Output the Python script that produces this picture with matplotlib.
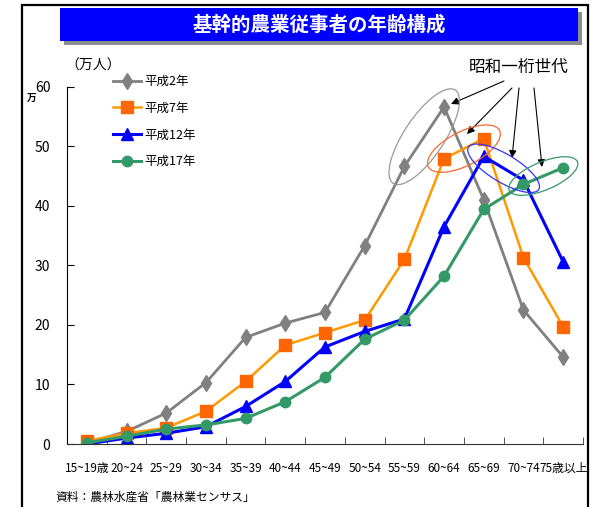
import matplotlib
matplotlib.use("Agg")
import matplotlib.pyplot as plt
from matplotlib.patches import Ellipse, Rectangle
import numpy as np

plt.rcParams['font.family'] = ['Noto Sans CJK JP', 'DejaVu Sans']

ages = ["15~19歳", "20~24", "25~29", "30~34", "35~39", "40~44", "45~49",
        "50~54", "55~59", "60~64", "65~69", "70~74", "75歳以上"]
h2 = [0.2, 2.1, 5.2, 10.3, 17.9, 20.3, 22.1, 33.3, 46.6, 56.6, 41.0, 22.5, 14.6]
h7 = [0.5, 1.8, 2.7, 5.5, 10.5, 16.6, 18.7, 20.8, 31.0, 47.9, 51.3, 31.3, 19.7]
h12 = [0.0, 1.0, 1.8, 2.9, 6.3, 10.5, 16.3, 18.9, 21.0, 36.5, 48.3, 44.3, 30.6]
h17 = [0.2, 1.3, 2.5, 3.2, 4.3, 7.1, 11.2, 17.6, 20.8, 28.2, 39.4, 43.6, 46.4]

x = np.arange(len(ages))

fig = plt.figure(figsize=(5.92, 5.07), dpi=100)
ax = fig.add_axes([67/592, 1-444/507, (583-67)/592, (444-86.7)/507])

# frame and title box
fig.patches.append(Rectangle((22/592, -0.02), (588-22)/592, 1-5/507+0.02,
                             transform=fig.transFigure, fill=False,
                             ec='black', lw=1.6))
fig.patches.append(Rectangle((64/592, 1-45/507), (578-60)/592, (41-8)/507,
                             transform=fig.transFigure, fc='#8c8c8c', ec='none'))
fig.patches.append(Rectangle((60/592, 1-41/507), (578-60)/592, (41-8)/507,
                             transform=fig.transFigure, fc='#0000ff', ec='none'))
fig.text(319/592, 1-25/507, "基幹的農業従事者の年齢構成", color='white',
         fontsize=14, fontweight='bold', ha='center', va='center')

ax.plot(x, h2, color='#808080', lw=2, marker='d', ms=8, mfc='#808080',
        mec='#808080', label='平成2年')
ax.plot(x, h7, color='#ff9900', lw=1.8, marker='s', ms=8, mfc='#ff6600',
        mec='#ff6600', label='平成7年')
ax.plot(x, h12, color='#0000ff', lw=2.2, marker='^', ms=8, mfc='#0000ff',
        mec='#0000ff', label='平成12年')
ax.plot(x, h17, color='#339966', lw=2.2, marker='o', ms=7.5, mfc='#339966',
        mec='#339966', label='平成17年')

ax.set_xlim(-0.5, 12.5)
ax.set_ylim(0, 60)
ax.set_yticks(range(0, 61, 10))
ax.set_xticks(x)
ax.set_xticklabels(ages, fontsize=8.5)
ax.set_xticks(np.arange(-0.5, 13, 1), minor=True)
ax.tick_params(axis='x', which='major', length=0, pad=13)
ax.tick_params(axis='x', which='minor', length=5, direction='in', color='#333333')
ax.tick_params(axis='y', length=5, direction='in', labelsize=10, pad=12)
for s in ['top', 'right']:
    ax.spines[s].set_visible(False)
ax.spines['bottom'].set_color('#333333')

leg = ax.legend(loc='upper left', bbox_to_anchor=(40/516, 1+18/357), frameon=False,
                fontsize=9, handlelength=2.2, labelspacing=1.1, handletextpad=0.3,
                borderpad=0)

fig.text(65/592, 1-66/507, "（万人）", fontsize=10, va='center', ha='left')
fig.text(32/592, 1-98/507, "万", fontsize=7, fontweight='bold', va='center', ha='center')
fig.text(55/592, 1-497/507, "資料：農林水産省「農林業センサス」", fontsize=8.5,
         va='center', ha='left')

# 昭和一桁世代 ellipses
fig.canvas.draw()
groups = [(h2, 8, '#999999', 112, 40), (h7, 9, '#ff6633', 80, 34),
          (h12, 10, '#3333ff', 82, 28), (h17, 11, '#339966', 74, 28)]
for ys, i, col, w, hgt in groups:
    p0 = ax.transData.transform((x[i], ys[i]))
    p1 = ax.transData.transform((x[i+1], ys[i+1]))
    c = (p0 + p1) / 2
    ang = np.degrees(np.arctan2(p1[1]-p0[1], p1[0]-p0[0]))
    e = Ellipse(c, w, hgt, angle=ang, fill=False, ec=col, lw=0.9, transform=None)
    fig.patches.append(e)

fig.text(519/592, 1-67/507, "昭和一桁世代", fontsize=12, ha='center', va='center')
arrows = [((504, 81), (451, 104)), ((512, 88), (467, 134)),
          ((519, 88), (512, 158)), ((534, 88), (542, 167))]
for (sx, sy), (tx, ty) in arrows:
    ax.annotate("", xy=(tx, 507-ty), xycoords='figure pixels',
                xytext=(sx, 507-sy), textcoords='figure pixels',
                arrowprops=dict(arrowstyle='-|>', color='black', lw=0.8,
                                mutation_scale=11, shrinkA=0, shrinkB=0))

fig.savefig("out.png", dpi=100)
